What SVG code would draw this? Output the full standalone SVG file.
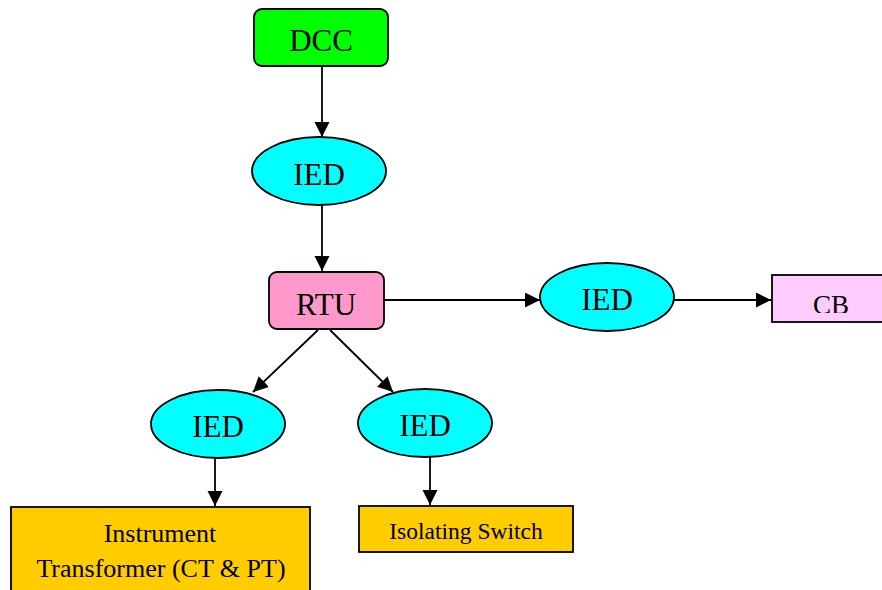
<svg xmlns="http://www.w3.org/2000/svg" width="882" height="590" viewBox="0 0 882 590">
<style>
  .shape { stroke: #000; stroke-width: 1.8; }
  .lbl { font-family: "Liberation Serif", "Times New Roman", serif; fill: #000; text-anchor: middle; }
  .big { font-size: 31px; }
  .conn { stroke: #000; stroke-width: 1.8; fill: none; marker-end: url(#arrow); }
</style>
<defs>
  <marker id="arrow" markerUnits="userSpaceOnUse" markerWidth="16" markerHeight="16" refX="15" refY="7.5" orient="auto">
    <path d="M0,0 L15,7.5 L0,15 z" fill="#000"/>
  </marker>
  <clipPath id="cbclip"><rect x="772" y="270" width="120" height="43"/></clipPath>
</defs>
<rect width="882" height="590" fill="#fff"/>
<g id="connectors">
  <line class="conn" x1="322" y1="67" x2="322" y2="137"/>
  <line class="conn" x1="322" y1="205" x2="322" y2="271"/>
  <line class="conn" x1="384" y1="300" x2="540" y2="300"/>
  <line class="conn" x1="674" y1="300" x2="771" y2="300"/>
  <line class="conn" x1="318" y1="330" x2="253" y2="392"/>
  <line class="conn" x1="330" y1="330" x2="393" y2="392"/>
  <line class="conn" x1="215" y1="459" x2="215" y2="506"/>
  <line class="conn" x1="430" y1="457" x2="430" y2="505"/>
</g>
<g id="dcc">
  <rect class="shape" x="254" y="9" width="134" height="57" rx="8" fill="#00FF00"/>
  <text class="lbl big" x="321" y="51">DCC</text>
</g>
<g id="ied1">
  <ellipse class="shape" cx="319" cy="171" rx="67" ry="34" fill="#00FFFF"/>
  <text class="lbl big" x="319" y="185">IED</text>
</g>
<g id="rtu">
  <rect class="shape" x="269" y="272" width="115" height="57" rx="8" fill="#FF99CC"/>
  <text class="lbl big" x="326" y="315">RTU</text>
</g>
<g id="ied2">
  <ellipse class="shape" cx="607" cy="297" rx="67" ry="34" fill="#00FFFF"/>
  <text class="lbl big" x="607" y="310">IED</text>
</g>
<g id="cb">
  <rect class="shape" x="772" y="275" width="120" height="47" fill="#FFCCFF"/>
  <text class="lbl" x="831" y="314" font-size="27" clip-path="url(#cbclip)">CB</text>
</g>
<g id="ied3">
  <ellipse class="shape" cx="218" cy="424" rx="67" ry="34" fill="#00FFFF"/>
  <text class="lbl big" x="218" y="437">IED</text>
</g>
<g id="ied4">
  <ellipse class="shape" cx="425" cy="423" rx="67" ry="34" fill="#00FFFF"/>
  <text class="lbl big" x="425" y="436">IED</text>
</g>
<g id="instrument">
  <rect class="shape" x="11" y="507" width="299" height="95" fill="#FFCC00"/>
  <text class="lbl" x="160" y="542" font-size="26">Instrument</text>
  <text class="lbl" x="161" y="577" font-size="26">Transformer (CT &amp; PT)</text>
</g>
<g id="isolating">
  <rect class="shape" x="359" y="506" width="214" height="46" fill="#FFCC00"/>
  <text class="lbl" x="466" y="539" font-size="23.5">Isolating Switch</text>
</g>
</svg>
